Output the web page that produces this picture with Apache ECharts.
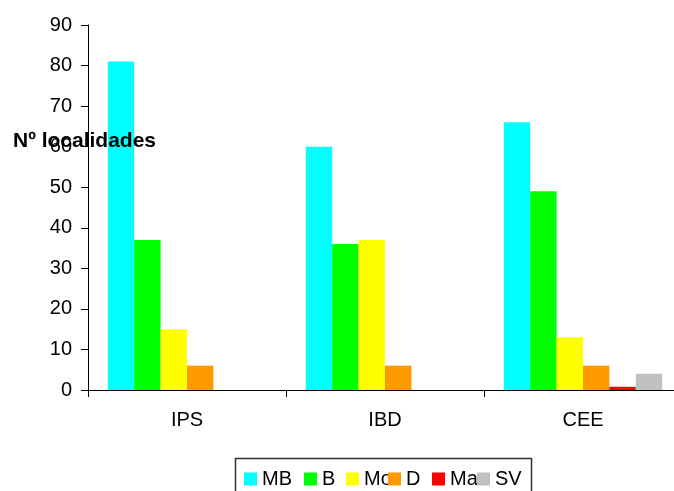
<!DOCTYPE html>
<html>
<head>
<meta charset="utf-8">
<script src="https://cdn.jsdelivr.net/npm/echarts@6/dist/echarts.min.js"></script>
<style>
html,body{margin:0;padding:0;background:#fff;}
#c{width:674px;height:491px;}
</style>
</head>
<body>
<div id="c"></div>
<script>
var categories = ['IPS', 'IBD', 'CEE'];
var seriesNames = ['MB', 'B', 'Mo', 'D', 'Ma', 'SV'];
var MB = [81, 60, 66];
var B = [37, 36, 49];
var Mo = [15, 37, 13];
var D = [6, 6, 6];
var Ma = [0, 0, 0.8];
var SV = [0, 0, 4];
var yTicks = [0, 10, 20, 30, 40, 50, 60, 70, 80, 90];
var colors = ['#00FFFF', '#00FF00', '#FFFF00', '#FF9900', '#FF0000', '#C0C0C0'];
var values = [MB, B, Mo, D, Ma, SV];
var legendLeft = [244, 304, 346, 388, 432, 477];

var font = 'Liberation Sans, Arial, sans-serif';
var chart = echarts.init(document.getElementById('c'), null, {renderer: 'canvas'});

var series = seriesNames.map(function (n, i) {
  return {
    name: n,
    type: 'bar',
    data: values[i].map(function (v) { return v === 0 ? null : v; }),
    barGap: 0,
    barCategoryGap: '20%',
    itemStyle: {color: colors[i]},
    emphasis: {disabled: true},
    animation: false
  };
});

var legends = seriesNames.map(function (n, i) {
  return {
    data: [n],
    left: legendLeft[i],
    top: 469,
    padding: 0,
    itemWidth: 13,
    itemHeight: 13,
    itemGap: 0,
    selectedMode: false,
    icon: 'rect',
    z: 10 + i,
    textStyle: {fontFamily: font, fontSize: 20, color: '#000', padding: [0, 0, 0, 0]}
  };
});

chart.setOption({
  animation: false,
  backgroundColor: '#fff',
  title: {
    text: 'Nº localidades',
    left: 13,
    top: 131,
    padding: 0,
    z: 20,
    textStyle: {fontFamily: font, fontSize: 21, fontWeight: 'bold', color: '#000'}
  },
  legend: legends,
  grid: {left: 88, right: -8, top: 25, bottom: 101, containLabel: false, outerBoundsMode: 'none'},
  xAxis: {
    type: 'category',
    data: categories,
    axisLine: {lineStyle: {color: '#000', width: 1}},
    axisTick: {show: true, length: 7, lineStyle: {color: '#000'}},
    axisLabel: {fontFamily: font, fontSize: 20, color: '#000', margin: 20},
    splitLine: {show: false}
  },
  yAxis: {
    type: 'value',
    min: yTicks[0],
    max: yTicks[yTicks.length - 1],
    interval: 10,
    axisLine: {show: true, lineStyle: {color: '#000', width: 1}},
    axisTick: {show: true, length: 7, lineStyle: {color: '#000'}},
    axisLabel: {fontFamily: font, fontSize: 20, color: '#000', margin: 16},
    splitLine: {show: false}
  },
  graphic: [{
    type: 'rect',
    shape: {x: 235.5, y: 458.5, width: 296, height: 40},
    style: {fill: null, stroke: '#333', lineWidth: 1.5},
    z: 5
  }],
  series: series
});
</script>
</body>
</html>
